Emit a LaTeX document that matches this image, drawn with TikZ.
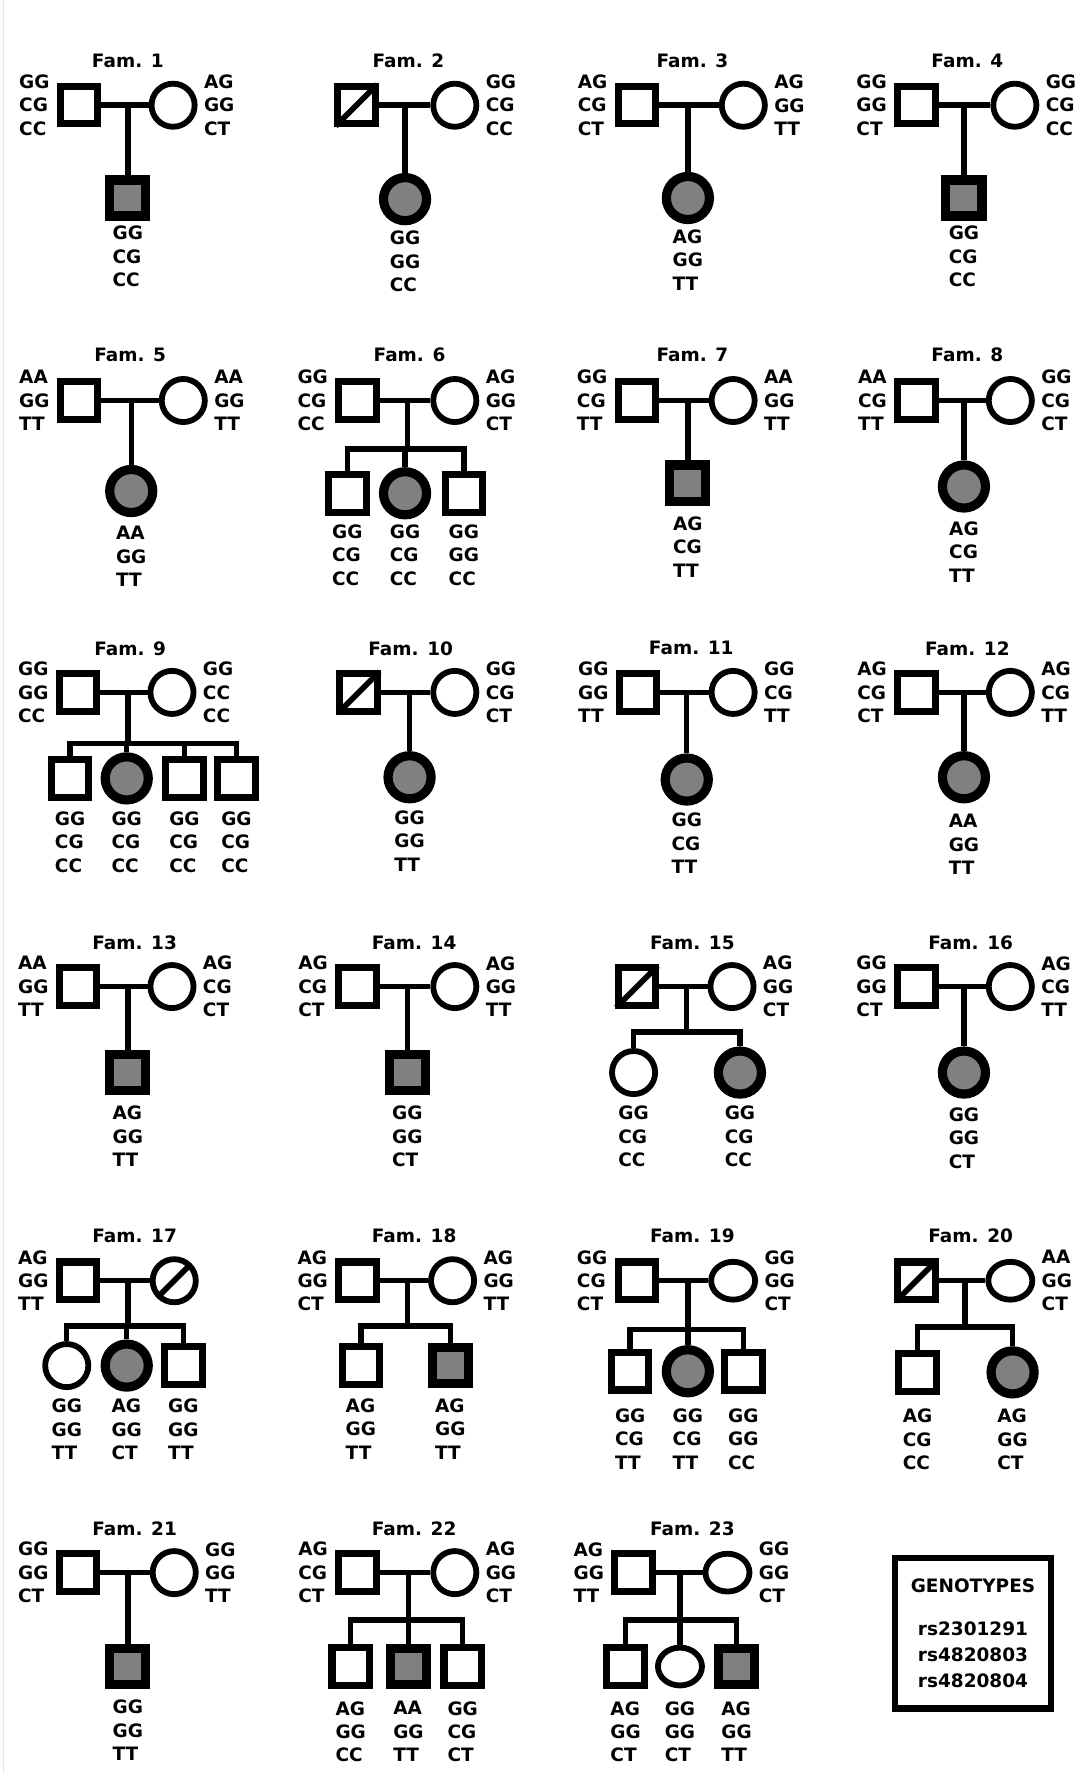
\documentclass[tikz,border=0pt]{standalone}
\usepackage{fontspec}
\setmainfont{DejaVu Sans}
\usepackage{tikz}
\usetikzlibrary{positioning,shapes.geometric,calc}
\definecolor{affgray}{HTML}{808080}
\newcommand{\gtfont}{\fontsize{10.5}{13.3}\selectfont\bfseries}
\newcommand{\legendfont}{\fontsize{10.5}{14.8}\selectfont\bfseries}
\tikzset{
  male/.style={rectangle, draw, line width=4pt, fill=white, minimum size=21.3pt, inner sep=0pt},
  female/.style={circle, draw, line width=3.3pt, fill=white, minimum size=24.5pt, inner sep=0pt},
  femaleoval/.style={ellipse, draw, line width=3.3pt, fill=white, minimum width=25pt,
                     minimum height=21.5pt, inner sep=0pt},
  affmale/.style={male, line width=5.2pt, minimum size=20.5pt, fill=affgray},
  afffemale/.style={female, line width=5.2pt, fill=affgray},
  gtext/.style={font=\gtfont, align=left, inner sep=0pt},
  famtitle/.style={font=\gtfont, inner sep=0pt},
  link/.style={line width=3.1pt},
  slash/.style={line width=3.2pt, shorten <=1.2pt, shorten >=1.2pt},
  legendbox/.style={rectangle, draw, line width=3.9pt, minimum width=88.7pt,
                    minimum height=85.5pt, align=center, font=\legendfont}
}

\begin{document}
\begin{tikzpicture}[x=0.0226cm, y=-0.0226cm]
\useasboundingbox (0,0) rectangle (961,1568);
\draw[gray!20, line width=0.8pt] (3,0) -- (3,1568);

\node[famtitle] (t1) at (113,54) {Fam. 1};
\node[male] (f1fa) at (70,93) {};
\node[female] (f1mo) at (153,93) {};
\node[affmale] (f1c1) at (113,175) {};
\node[gtext, left=4pt of f1fa] (f1fat) {GG\\CG\\CC};
\node[gtext, right=3.5pt of f1mo] (f1mot) {AG\\GG\\CT};
\node[gtext, below=3pt of f1c1] (f1c1t) {GG\\CG\\CC};
\draw[link] (f1fa) -- (f1mo);
\draw[link] (f1c1) -- (f1c1 |- f1fa);

\node[famtitle] (t2) at (361,54) {Fam. 2};
\node[male] (f2fa) at (315,93) {};
\node[female] (f2mo) at (402,93) {};
\node[afffemale] (f2c1) at (358,176) {};
\node[gtext, right=3.5pt of f2mo] (f2mot) {GG\\CG\\CC};
\node[gtext, below=3pt of f2c1] (f2c1t) {GG\\GG\\CC};
\draw[link] (f2fa) -- (f2mo);
\draw[link] (f2c1) -- (f2c1 |- f2fa);
\draw[slash] (f2fa.south west) -- (f2fa.north east);

\node[famtitle] (t3) at (612,54) {Fam. 3};
\node[male] (f3fa) at (563,93) {};
\node[female] (f3mo) at (657,93) {};
\node[afffemale] (f3c1) at (608,175) {};
\node[gtext, left=4pt of f3fa] (f3fat) {AG\\CG\\CT};
\node[gtext, right=3.5pt of f3mo] (f3mot) {AG\\GG\\TT};
\node[gtext, below=3pt of f3c1] (f3c1t) {AG\\GG\\TT};
\draw[link] (f3fa) -- (f3mo);
\draw[link] (f3c1) -- (f3c1 |- f3fa);

\node[famtitle] (t4) at (855,54) {Fam. 4};
\node[male] (f4fa) at (810,93) {};
\node[female] (f4mo) at (897,93) {};
\node[affmale] (f4c1) at (852,175) {};
\node[gtext, left=4pt of f4fa] (f4fat) {GG\\GG\\CT};
\node[gtext, right=3.5pt of f4mo] (f4mot) {GG\\CG\\CC};
\node[gtext, below=3pt of f4c1] (f4c1t) {GG\\CG\\CC};
\draw[link] (f4fa) -- (f4mo);
\draw[link] (f4c1) -- (f4c1 |- f4fa);

\node[famtitle] (t5) at (115,314) {Fam. 5};
\node[male] (f5fa) at (70,354) {};
\node[female] (f5mo) at (162,354) {};
\node[afffemale] (f5c1) at (116,434) {};
\node[gtext, left=4pt of f5fa] (f5fat) {AA\\GG\\TT};
\node[gtext, right=3.5pt of f5mo] (f5mot) {AA\\GG\\TT};
\node[gtext, below=5pt of f5c1] (f5c1t) {AA\\GG\\TT};
\draw[link] (f5fa) -- (f5mo);
\draw[link] (f5c1) -- (f5c1 |- f5fa);

\node[famtitle] (t6) at (362,314) {Fam. 6};
\node[male] (f6fa) at (316,354) {};
\node[female] (f6mo) at (402,354) {};
\coordinate (f6s) at (360,397);
\node[male] (f6c1) at (307,436) {};
\node[afffemale] (f6c2) at (358,436) {};
\node[male] (f6c3) at (410,436) {};
\node[gtext, left=4pt of f6fa] (f6fat) {GG\\CG\\CC};
\node[gtext, right=3.5pt of f6mo] (f6mot) {AG\\GG\\CT};
\node[gtext, below=5pt of f6c1] (f6c1t) {GG\\CG\\CC};
\node[gtext, anchor=north] (f6c2t) at (f6c2 |- f6c1t.north) {GG\\CG\\CC};
\node[gtext, anchor=north] (f6c3t) at (f6c3 |- f6c1t.north) {GG\\GG\\CC};
\draw[link] (f6fa) -- (f6mo);
\draw[link] (f6s |- f6fa) -- (f6s);
\draw[link] (f6c1) -- (f6c1 |- f6s) -- (f6c3 |- f6s) -- (f6c3);
\draw[link] (f6c2) -- (f6c2 |- f6s);

\node[famtitle] (t7) at (612,314) {Fam. 7};
\node[male] (f7fa) at (563,354) {};
\node[female] (f7mo) at (648,354) {};
\node[affmale] (f7c1) at (608,427) {};
\node[gtext, left=4pt of f7fa] (f7fat) {GG\\CG\\TT};
\node[gtext, right=3.5pt of f7mo] (f7mot) {AA\\GG\\TT};
\node[gtext, below=6pt of f7c1] (f7c1t) {AG\\CG\\TT};
\draw[link] (f7fa) -- (f7mo);
\draw[link] (f7c1) -- (f7c1 |- f7fa);

\node[famtitle] (t8) at (855,314) {Fam. 8};
\node[male] (f8fa) at (810,354) {};
\node[female] (f8mo) at (893,354) {};
\node[afffemale] (f8c1) at (852,430) {};
\node[gtext, left=4pt of f8fa] (f8fat) {AA\\CG\\TT};
\node[gtext, right=3.5pt of f8mo] (f8mot) {GG\\CG\\CT};
\node[gtext, below=5pt of f8c1] (f8c1t) {AG\\CG\\TT};
\draw[link] (f8fa) -- (f8mo);
\draw[link] (f8c1) -- (f8c1 |- f8fa);

\node[famtitle] (t9) at (115,573) {Fam. 9};
\node[male] (f9fa) at (69,612) {};
\node[female] (f9mo) at (152,612) {};
\coordinate (f9s) at (113,657);
\node[male] (f9c1) at (62,688) {};
\node[afffemale] (f9c2) at (112,688) {};
\node[male] (f9c3) at (163,688) {};
\node[male] (f9c4) at (209,688) {};
\node[gtext, left=4pt of f9fa] (f9fat) {GG\\GG\\CC};
\node[gtext, right=3.5pt of f9mo] (f9mot) {GG\\CC\\CC};
\node[gtext, below=6pt of f9c1] (f9c1t) {GG\\CG\\CC};
\node[gtext, anchor=north] (f9c2t) at (f9c2 |- f9c1t.north) {GG\\CG\\CC};
\node[gtext, anchor=north] (f9c3t) at (f9c3 |- f9c1t.north) {GG\\CG\\CC};
\node[gtext, anchor=north] (f9c4t) at (f9c4 |- f9c1t.north) {GG\\CG\\CC};
\draw[link] (f9fa) -- (f9mo);
\draw[link] (f9s |- f9fa) -- (f9s);
\draw[link] (f9c1) -- (f9c1 |- f9s) -- (f9c4 |- f9s) -- (f9c4);
\draw[link] (f9c2) -- (f9c2 |- f9s);
\draw[link] (f9c3) -- (f9c3 |- f9s);

\node[famtitle] (t10) at (363,573) {Fam. 10};
\node[male] (f10fa) at (317,612) {};
\node[female] (f10mo) at (402,612) {};
\node[afffemale] (f10c1) at (362,687) {};
\node[gtext, right=3.5pt of f10mo] (f10mot) {GG\\CG\\CT};
\node[gtext, below=4pt of f10c1] (f10c1t) {GG\\GG\\TT};
\draw[link] (f10fa) -- (f10mo);
\draw[link] (f10c1) -- (f10c1 |- f10fa);
\draw[slash] (f10fa.south west) -- (f10fa.north east);

\node[famtitle] (t11) at (611,573) {Fam. 11};
\node[male] (f11fa) at (564,612) {};
\node[female] (f11mo) at (648,612) {};
\node[afffemale] (f11c1) at (607,689) {};
\node[gtext, left=4pt of f11fa] (f11fat) {GG\\GG\\TT};
\node[gtext, right=3.5pt of f11mo] (f11mot) {GG\\CG\\TT};
\node[gtext, below=4pt of f11c1] (f11c1t) {GG\\CG\\TT};
\draw[link] (f11fa) -- (f11mo);
\draw[link] (f11c1) -- (f11c1 |- f11fa);

\node[famtitle] (t12) at (855,573) {Fam. 12};
\node[male] (f12fa) at (810,612) {};
\node[female] (f12mo) at (893,612) {};
\node[afffemale] (f12c1) at (852,687) {};
\node[gtext, left=4pt of f12fa] (f12fat) {AG\\CG\\CT};
\node[gtext, right=3.5pt of f12mo] (f12mot) {AG\\CG\\TT};
\node[gtext, below=6pt of f12c1] (f12c1t) {AA\\GG\\TT};
\draw[link] (f12fa) -- (f12mo);
\draw[link] (f12c1) -- (f12c1 |- f12fa);

\node[famtitle] (t13) at (119,833) {Fam. 13};
\node[male] (f13fa) at (69,872) {};
\node[female] (f13mo) at (152,872) {};
\node[affmale] (f13c1) at (113,948) {};
\node[gtext, left=4pt of f13fa] (f13fat) {AA\\GG\\TT};
\node[gtext, right=3.5pt of f13mo] (f13mot) {AG\\CG\\CT};
\node[gtext, below=6pt of f13c1] (f13c1t) {AG\\GG\\TT};
\draw[link] (f13fa) -- (f13mo);
\draw[link] (f13c1) -- (f13c1 |- f13fa);

\node[famtitle] (t14) at (366,833) {Fam. 14};
\node[male] (f14fa) at (316,872) {};
\node[female] (f14mo) at (402,872) {};
\node[affmale] (f14c1) at (360,948) {};
\node[gtext, left=4pt of f14fa] (f14fat) {AG\\CG\\CT};
\node[gtext, right=3.5pt of f14mo] (f14mot) {AG\\GG\\TT};
\node[gtext, below=6pt of f14c1] (f14c1t) {GG\\GG\\CT};
\draw[link] (f14fa) -- (f14mo);
\draw[link] (f14c1) -- (f14c1 |- f14fa);

\node[famtitle] (t15) at (612,833) {Fam. 15};
\node[male] (f15fa) at (563,872) {};
\node[female] (f15mo) at (647,872) {};
\coordinate (f15s) at (607,912);
\node[female] (f15c1) at (560,948) {};
\node[afffemale] (f15c2) at (654,948) {};
\node[gtext, right=3.5pt of f15mo] (f15mot) {AG\\GG\\CT};
\node[gtext, below=5pt of f15c1] (f15c1t) {GG\\CG\\CC};
\node[gtext, anchor=north] (f15c2t) at (f15c2 |- f15c1t.north) {GG\\CG\\CC};
\draw[link] (f15fa) -- (f15mo);
\draw[link] (f15s |- f15fa) -- (f15s);
\draw[link] (f15c1) -- (f15c1 |- f15s) -- (f15c2 |- f15s) -- (f15c2);
\draw[slash] (f15fa.south west) -- (f15fa.north east);

\node[famtitle] (t16) at (858,833) {Fam. 16};
\node[male] (f16fa) at (810,872) {};
\node[female] (f16mo) at (893,872) {};
\node[afffemale] (f16c1) at (852,948) {};
\node[gtext, left=4pt of f16fa] (f16fat) {GG\\GG\\CT};
\node[gtext, right=3.5pt of f16mo] (f16mot) {AG\\CG\\TT};
\node[gtext, below=5pt of f16c1] (f16c1t) {GG\\GG\\CT};
\draw[link] (f16fa) -- (f16mo);
\draw[link] (f16c1) -- (f16c1 |- f16fa);

\node[famtitle] (t17) at (119,1092) {Fam. 17};
\node[male] (f17fa) at (69,1132) {};
\node[female] (f17mo) at (154,1132) {};
\coordinate (f17s) at (113,1172);
\node[female] (f17c1) at (59,1207) {};
\node[afffemale] (f17c2) at (112,1207) {};
\node[male] (f17c3) at (162,1207) {};
\node[gtext, left=4pt of f17fa] (f17fat) {AG\\GG\\TT};
\node[gtext, below=5pt of f17c1] (f17c1t) {GG\\GG\\TT};
\node[gtext, anchor=north] (f17c2t) at (f17c2 |- f17c1t.north) {AG\\GG\\CT};
\node[gtext, anchor=north] (f17c3t) at (f17c3 |- f17c1t.north) {GG\\GG\\TT};
\draw[link] (f17fa) -- (f17mo);
\draw[link] (f17s |- f17fa) -- (f17s);
\draw[link] (f17c1) -- (f17c1 |- f17s) -- (f17c3 |- f17s) -- (f17c3);
\draw[link] (f17c2) -- (f17c2 |- f17s);
\draw[slash] (f17mo.south west) -- (f17mo.north east);

\node[famtitle] (t18) at (366,1092) {Fam. 18};
\node[male] (f18fa) at (316,1132) {};
\node[female] (f18mo) at (400,1132) {};
\coordinate (f18s) at (360,1172);
\node[male] (f18c1) at (319,1207) {};
\node[affmale] (f18c2) at (398,1207) {};
\node[gtext, left=4pt of f18fa] (f18fat) {AG\\GG\\CT};
\node[gtext, right=3.5pt of f18mo] (f18mot) {AG\\GG\\TT};
\node[gtext, below=6pt of f18c1] (f18c1t) {AG\\GG\\TT};
\node[gtext, anchor=north] (f18c2t) at (f18c2 |- f18c1t.north) {AG\\GG\\TT};
\draw[link] (f18fa) -- (f18mo);
\draw[link] (f18s |- f18fa) -- (f18s);
\draw[link] (f18c1) -- (f18c1 |- f18s) -- (f18c2 |- f18s) -- (f18c2);

\node[famtitle] (t19) at (612,1092) {Fam. 19};
\node[male] (f19fa) at (563,1132) {};
\node[femaleoval] (f19mo) at (648,1132) {};
\coordinate (f19s) at (608,1175);
\node[male] (f19c1) at (557,1212) {};
\node[afffemale] (f19c2) at (608,1212) {};
\node[male] (f19c3) at (657,1212) {};
\node[gtext, left=4pt of f19fa] (f19fat) {GG\\CG\\CT};
\node[gtext, right=3.5pt of f19mo] (f19mot) {GG\\GG\\CT};
\node[gtext, below=8.5pt of f19c1] (f19c1t) {GG\\CG\\TT};
\node[gtext, anchor=north] (f19c2t) at (f19c2 |- f19c1t.north) {GG\\CG\\TT};
\node[gtext, anchor=north] (f19c3t) at (f19c3 |- f19c1t.north) {GG\\GG\\CC};
\draw[link] (f19fa) -- (f19mo);
\draw[link] (f19s |- f19fa) -- (f19s);
\draw[link] (f19c1) -- (f19c1 |- f19s) -- (f19c3 |- f19s) -- (f19c3);
\draw[link] (f19c2) -- (f19c2 |- f19s);

\node[famtitle] (t20) at (858,1092) {Fam. 20};
\node[male] (f20fa) at (810,1132) {};
\node[femaleoval] (f20mo) at (893,1132) {};
\coordinate (f20s) at (853,1173);
\node[male] (f20c1) at (811,1213) {};
\node[afffemale] (f20c2) at (895,1213) {};
\node[gtext, right=3.5pt of f20mo] (f20mot) {AA\\GG\\CT};
\node[gtext, below=8pt of f20c1] (f20c1t) {AG\\CG\\CC};
\node[gtext, anchor=north] (f20c2t) at (f20c2 |- f20c1t.north) {AG\\GG\\CT};
\draw[link] (f20fa) -- (f20mo);
\draw[link] (f20s |- f20fa) -- (f20s);
\draw[link] (f20c1) -- (f20c1 |- f20s) -- (f20c2 |- f20s) -- (f20c2);
\draw[slash] (f20fa.south west) -- (f20fa.north east);

\node[famtitle] (t21) at (119,1351) {Fam. 21};
\node[male] (f21fa) at (69,1390) {};
\node[female] (f21mo) at (154,1390) {};
\node[affmale] (f21c1) at (113,1473) {};
\node[gtext, left=4pt of f21fa] (f21fat) {GG\\GG\\CT};
\node[gtext, right=3.5pt of f21mo] (f21mot) {GG\\GG\\TT};
\node[gtext, below=6pt of f21c1] (f21c1t) {GG\\GG\\TT};
\draw[link] (f21fa) -- (f21mo);
\draw[link] (f21c1) -- (f21c1 |- f21fa);

\node[famtitle] (t22) at (366,1351) {Fam. 22};
\node[male] (f22fa) at (316,1390) {};
\node[female] (f22mo) at (402,1390) {};
\coordinate (f22s) at (361,1432);
\node[male] (f22c1) at (310,1473) {};
\node[affmale] (f22c2) at (361,1473) {};
\node[male] (f22c3) at (409,1473) {};
\node[gtext, left=4pt of f22fa] (f22fat) {AG\\CG\\CT};
\node[gtext, right=3.5pt of f22mo] (f22mot) {AG\\GG\\CT};
\node[gtext, below=7pt of f22c1] (f22c1t) {AG\\GG\\CC};
\node[gtext, anchor=north] (f22c2t) at (f22c2 |- f22c1t.north) {AA\\GG\\TT};
\node[gtext, anchor=north] (f22c3t) at (f22c3 |- f22c1t.north) {GG\\CG\\CT};
\draw[link] (f22fa) -- (f22mo);
\draw[link] (f22s |- f22fa) -- (f22s);
\draw[link] (f22c1) -- (f22c1 |- f22s) -- (f22c3 |- f22s) -- (f22c3);
\draw[link] (f22c2) -- (f22c2 |- f22s);

\node[famtitle] (t23) at (612,1351) {Fam. 23};
\node[male] (f23fa) at (560,1390) {};
\node[femaleoval] (f23mo) at (643,1390) {};
\coordinate (f23s) at (601,1432);
\node[male] (f23c1) at (553,1473) {};
\node[femaleoval] (f23c2) at (601,1473) {};
\node[affmale] (f23c3) at (651,1473) {};
\node[gtext, left=4pt of f23fa] (f23fat) {AG\\GG\\TT};
\node[gtext, right=3.5pt of f23mo] (f23mot) {GG\\GG\\CT};
\node[gtext, below=7pt of f23c1] (f23c1t) {AG\\GG\\CT};
\node[gtext, anchor=north] (f23c2t) at (f23c2 |- f23c1t.north) {GG\\GG\\CT};
\node[gtext, anchor=north] (f23c3t) at (f23c3 |- f23c1t.north) {AG\\GG\\TT};
\draw[link] (f23fa) -- (f23mo);
\draw[link] (f23s |- f23fa) -- (f23s);
\draw[link] (f23c1) -- (f23c1 |- f23s) -- (f23c3 |- f23s) -- (f23c3);
\draw[link] (f23c2) -- (f23c2 |- f23s);

\node[legendbox] (legend) at (860,1443.5) {GENOTYPES\\[9.6pt]rs2301291\\rs4820803\\rs4820804};
\end{tikzpicture}
\end{document}
